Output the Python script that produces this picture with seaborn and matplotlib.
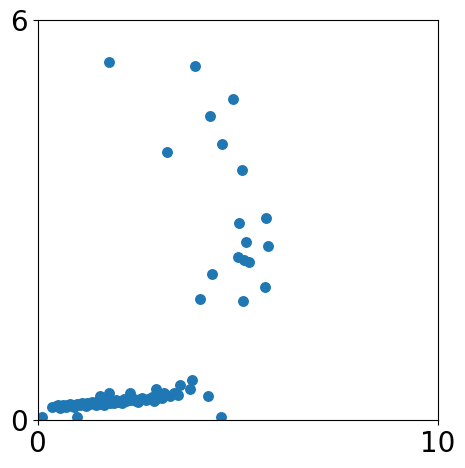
import numpy as np
import pandas as pd
import matplotlib
matplotlib.use("Agg")
import matplotlib.pyplot as plt
import seaborn as sns

# values
x_vals = [
    0.12, 0.98, 4.58,
    0.37, 0.45, 0.52, 0.58, 0.63, 0.68, 0.74, 0.80, 0.85, 0.92,
    0.98, 1.05, 1.10, 1.18, 1.24, 1.30, 1.37, 1.42, 1.50, 1.55,
    1.58, 1.63, 1.68, 1.72, 1.78, 1.82, 1.88, 1.95, 2.02, 2.08,
    2.15, 2.22, 2.31, 2.33, 2.40, 2.47, 2.55, 2.62, 2.70, 2.76,
    2.85, 2.95, 2.97, 3.02, 3.10, 3.16, 3.22, 3.30, 3.41, 3.50,
    3.56, 3.81, 3.86, 4.26,
    0.55, 0.70, 0.90, 1.20, 1.45, 1.65, 1.90, 2.10, 2.50, 2.90,
    1.78, 3.93, 4.88, 4.30, 4.60, 3.23, 5.10, 5.03, 5.70, 5.20,
    5.75, 5.00, 5.15, 5.28, 4.35, 4.05, 5.68, 5.13,
]
y_vals = [
    0.05, 0.04, 0.04,
    0.20, 0.21, 0.22, 0.20, 0.23, 0.21, 0.22, 0.24, 0.21, 0.23,
    0.24, 0.22, 0.25, 0.23, 0.26, 0.24, 0.27, 0.25, 0.28, 0.36,
    0.24, 0.27, 0.25, 0.29, 0.40, 0.26, 0.28, 0.30, 0.27, 0.29,
    0.31, 0.28, 0.40, 0.30, 0.32, 0.29, 0.31, 0.33, 0.30, 0.32,
    0.34, 0.47, 0.31, 0.36, 0.33, 0.40, 0.38, 0.36, 0.40, 0.38,
    0.52, 0.46, 0.60, 0.36,
    0.18, 0.19, 0.20, 0.21, 0.22, 0.23, 0.25, 0.25, 0.27, 0.29,
    5.37, 5.31, 4.82, 4.56, 4.14, 4.02, 3.75, 2.96, 3.03, 2.67,
    2.61, 2.45, 2.40, 2.37, 2.19, 1.82, 2.00, 1.79,
]
x_ticks = [0, 10]
y_ticks = [0, 6]

df = pd.DataFrame({"x": x_vals, "y": y_vals})

fig = plt.figure(figsize=(4.65, 4.68), dpi=100)
ax = fig.add_axes([37.5 / 465, 48 / 468, 400 / 465, 400 / 468])

sns.scatterplot(data=df, x="x", y="y", ax=ax, color="#1f77b4", s=62, linewidth=0)

ax.set_xlim(0, 10)
ax.set_ylim(0, 6)
ax.set_xticks(x_ticks)
ax.set_yticks(y_ticks)
ax.tick_params(labelsize=20)
ax.set_xlabel("")
ax.set_ylabel("")

fig.savefig("out.png", dpi=100)
